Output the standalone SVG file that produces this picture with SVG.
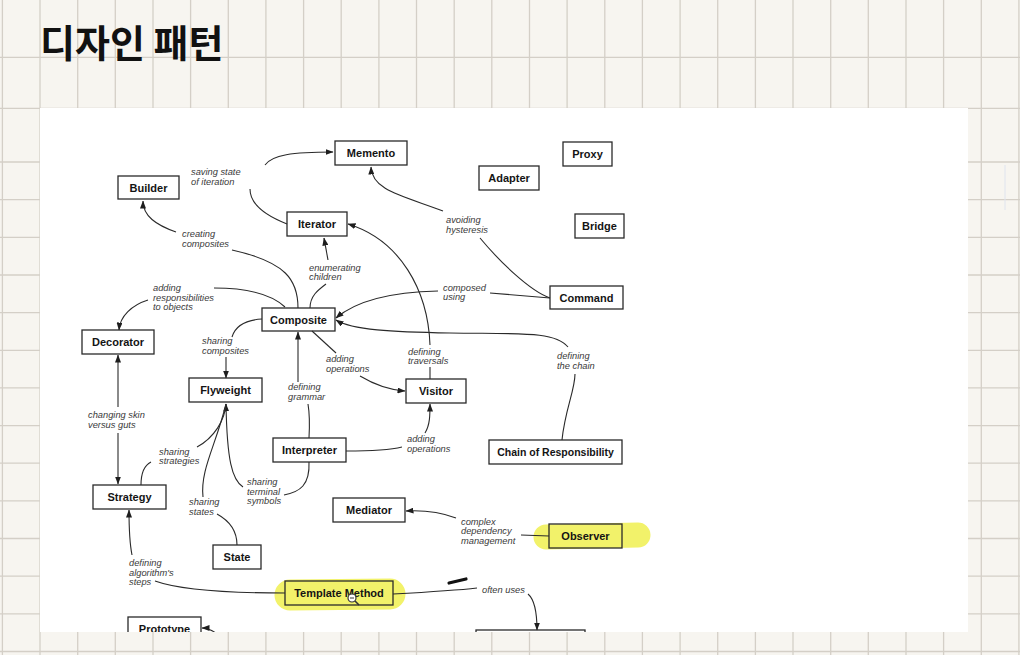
<svg xmlns="http://www.w3.org/2000/svg" width="1020" height="655" viewBox="0 0 1020 655">
<style>
.grid line{stroke:#d4cfc7;stroke-width:1.3}
.node rect{fill:none;stroke:#2a2a2a;stroke-width:1.3}
.node text{font-family:"Liberation Sans",Arial,sans-serif;font-weight:bold;font-size:11px;fill:#141414;text-anchor:middle}
.lbl{font-family:"Liberation Sans",Arial,sans-serif;font-style:italic;font-size:9.3px;fill:#3a3a3a}
.edges path{fill:none;stroke:#2a2a2a;stroke-width:1.1}
.hl{fill:none;stroke:#f2f26a;stroke-linecap:round}
</style>
<defs>
<marker id="ah" markerUnits="userSpaceOnUse" markerWidth="8" markerHeight="6" refX="7.5" refY="3" orient="auto"><path d="M0,0 L8,3 L0,6 z" fill="#1e1e1e"/></marker>
<clipPath id="panel"><rect x="40" y="108" width="928" height="524"/></clipPath>
</defs>
<rect x="0" y="0" width="1020" height="655" fill="#f7f5f0"/>
<g class="grid">
<line x1="2.4" y1="0" x2="2.4" y2="655"/><line x1="40" y1="0" x2="40" y2="655"/><line x1="77.7" y1="0" x2="77.7" y2="655"/><line x1="115.3" y1="0" x2="115.3" y2="655"/><line x1="153" y1="0" x2="153" y2="655"/><line x1="190.6" y1="0" x2="190.6" y2="655"/><line x1="228.3" y1="0" x2="228.3" y2="655"/><line x1="265.9" y1="0" x2="265.9" y2="655"/><line x1="303.6" y1="0" x2="303.6" y2="655"/><line x1="341.2" y1="0" x2="341.2" y2="655"/><line x1="378.9" y1="0" x2="378.9" y2="655"/><line x1="416.5" y1="0" x2="416.5" y2="655"/><line x1="454.2" y1="0" x2="454.2" y2="655"/><line x1="491.8" y1="0" x2="491.8" y2="655"/><line x1="529.5" y1="0" x2="529.5" y2="655"/><line x1="567.1" y1="0" x2="567.1" y2="655"/><line x1="604.8" y1="0" x2="604.8" y2="655"/><line x1="642.4" y1="0" x2="642.4" y2="655"/><line x1="680.1" y1="0" x2="680.1" y2="655"/><line x1="717.7" y1="0" x2="717.7" y2="655"/><line x1="755.4" y1="0" x2="755.4" y2="655"/><line x1="793" y1="0" x2="793" y2="655"/><line x1="830.7" y1="0" x2="830.7" y2="655"/><line x1="868.3" y1="0" x2="868.3" y2="655"/><line x1="906" y1="0" x2="906" y2="655"/><line x1="943.6" y1="0" x2="943.6" y2="655"/><line x1="981.3" y1="0" x2="981.3" y2="655"/><line x1="1018.9" y1="0" x2="1018.9" y2="655"/>
<line x1="0" y1="57.3" x2="1020" y2="57.3"/><line x1="0" y1="108.3" x2="1020" y2="108.3"/><line x1="0" y1="162" x2="1020" y2="162"/><line x1="0" y1="199.7" x2="1020" y2="199.7"/><line x1="0" y1="237.3" x2="1020" y2="237.3"/><line x1="0" y1="275" x2="1020" y2="275"/><line x1="0" y1="312.6" x2="1020" y2="312.6"/><line x1="0" y1="350.3" x2="1020" y2="350.3"/><line x1="0" y1="387.9" x2="1020" y2="387.9"/><line x1="0" y1="425.6" x2="1020" y2="425.6"/><line x1="0" y1="463.2" x2="1020" y2="463.2"/><line x1="0" y1="500.9" x2="1020" y2="500.9"/><line x1="0" y1="538.5" x2="1020" y2="538.5"/><line x1="0" y1="576.2" x2="1020" y2="576.2"/><line x1="0" y1="613.8" x2="1020" y2="613.8"/><line x1="0" y1="651.5" x2="1020" y2="651.5"/>
</g>
<line x1="1005" y1="165" x2="1005" y2="210" stroke="#dfe4ee" stroke-width="1"/>
<text x="40" y="57" font-family="'Noto Sans CJK KR','Noto Sans',sans-serif" font-weight="bold" font-size="38" fill="#111">디자인 패턴</text>
<rect x="40" y="108" width="928" height="524" fill="#ffffff"/>
<g clip-path="url(#panel)">
<g id="highlights">
<path class="hl" d="M546,537 L638,535" stroke-width="25"/>
<path class="hl" d="M290,595 L390,594" stroke-width="31"/>
</g>
<g class="edges" id="connectors">
<path d="M287,224 C264,215 250,203 250,189"/>
<path d="M265,165 C272,155 292,152 333,152" marker-end="url(#ah)"/>
<path d="M298,308 C298,280 286,262 232,250"/>
<path d="M176,232 C156,225 143,216 143,201" marker-end="url(#ah)"/>
<path d="M310,308 C310,296 318,290 326,284"/>
<path d="M328,260 L324,238" marker-end="url(#ah)"/>
<path d="M285,307 C270,293 246,288 214,288"/>
<path d="M148,300 C132,305 120,316 119,330" marker-end="url(#ah)"/>
<path d="M550,298 L490,293"/>
<path d="M438,291 C392,292 356,301 336,318" marker-end="url(#ah)"/>
<path d="M550,298 C530,291 500,262 480,238"/>
<path d="M443,211 C400,195 372,190 371,167" marker-end="url(#ah)"/>
<path d="M430,379 L430,367"/>
<path d="M430,345 C428,290 400,240 348,224" marker-end="url(#ah)"/>
<path d="M562,440 C565,410 575,390 575,374"/>
<path d="M568,347 C555,331 520,334 450,333 C392,332 352,330 336,320" marker-end="url(#ah)"/>
<path d="M262,319 C245,320 235,327 232,337"/>
<path d="M226,357 L226,378" marker-end="url(#ah)"/>
<path d="M312,331 L336,353"/>
<path d="M360,376 C375,385 390,390 405,391" marker-end="url(#ah)"/>
<path d="M309,438 C310,420 309,410 308,404"/>
<path d="M298,382 L298,332" marker-end="url(#ah)"/>
<path d="M346,451 C370,451 390,450 402,447"/>
<path d="M425,433 C430,425 430,415 430,404" marker-end="url(#ah)"/>
<path d="M309,462 C310,485 300,492 284,495"/>
<path d="M243,487 C232,480 227,460 226,404" marker-end="url(#ah)"/>
<path d="M141,485 C141,471 145,465 151,462"/>
<path d="M197,447 C214,438 225,420 226,404"/>
<path d="M237,545 C237,530 228,520 217,514"/>
<path d="M203,497 C200,470 216,445 226,404"/>
<path d="M118,407 L118,355" marker-end="url(#ah)"/>
<path d="M118,433 L118,484" marker-end="url(#ah)"/>
<path d="M285,593 C230,593 180,590 155,581"/>
<path d="M132,555 C129,540 129,525 129,510" marker-end="url(#ah)"/>
<path d="M549,536 L521,535"/>
<path d="M456,518 C440,512 425,510 406,511" marker-end="url(#ah)"/>
<path d="M393,594 C430,592 460,590 477,588"/>
<path d="M528,594 C535,600 537,615 537,630" marker-end="url(#ah)"/>
<path d="M217,634 C212,630 207,628 202,628" marker-end="url(#ah)"/>
</g>
<g id="labels">
<text class="lbl" x="191" y="175">saving state</text><text class="lbl" x="191" y="184.5">of iteration</text>
<text class="lbl" x="182" y="237">creating</text><text class="lbl" x="182" y="246.5">composites</text>
<text class="lbl" x="309" y="270.5">enumerating</text><text class="lbl" x="309" y="280">children</text>
<text class="lbl" x="153" y="291">adding</text><text class="lbl" x="153" y="300.5">responsibilities</text><text class="lbl" x="153" y="310">to objects</text>
<text class="lbl" x="446" y="223">avoiding</text><text class="lbl" x="446" y="232.5">hysteresis</text>
<text class="lbl" x="443" y="290.5">composed</text><text class="lbl" x="443" y="300">using</text>
<text class="lbl" x="202" y="344">sharing</text><text class="lbl" x="202" y="353.5">composites</text>
<text class="lbl" x="326" y="362">adding</text><text class="lbl" x="326" y="371.5">operations</text>
<text class="lbl" x="288" y="390">defining</text><text class="lbl" x="288" y="399.5">grammar</text>
<text class="lbl" x="88" y="418">changing skin</text><text class="lbl" x="88" y="427.5">versus guts</text>
<text class="lbl" x="159" y="454.5">sharing</text><text class="lbl" x="159" y="464">strategies</text>
<text class="lbl" x="247" y="485">sharing</text><text class="lbl" x="247" y="494.5">terminal</text><text class="lbl" x="247" y="504">symbols</text>
<text class="lbl" x="189" y="505">sharing</text><text class="lbl" x="189" y="514.5">states</text>
<text class="lbl" x="408" y="354.5">defining</text><text class="lbl" x="408" y="364">traversals</text>
<text class="lbl" x="557" y="359">defining</text><text class="lbl" x="557" y="368.5">the chain</text>
<text class="lbl" x="407" y="442">adding</text><text class="lbl" x="407" y="451.5">operations</text>
<text class="lbl" x="461" y="524.5">complex</text><text class="lbl" x="461" y="534">dependency</text><text class="lbl" x="461" y="543.5">management</text>
<text class="lbl" x="129" y="566">defining</text><text class="lbl" x="129" y="575.5">algorithm's</text><text class="lbl" x="129" y="585">steps</text>
<text class="lbl" x="482" y="593">often uses</text>
</g>
<g id="n-memento" class="node"><rect x="335" y="141" width="72" height="24"/><text x="371" y="157">Memento</text></g>
<g id="n-proxy" class="node"><rect x="563" y="142" width="49" height="24"/><text x="587.5" y="158">Proxy</text></g>
<g id="n-builder" class="node"><rect x="118" y="176" width="61" height="23"/><text x="148.5" y="191.5">Builder</text></g>
<g id="n-adapter" class="node"><rect x="479" y="166" width="60" height="24"/><text x="509" y="182">Adapter</text></g>
<g id="n-iterator" class="node"><rect x="287" y="212" width="60" height="24"/><text x="317" y="228">Iterator</text></g>
<g id="n-bridge" class="node"><rect x="575" y="214" width="49" height="24"/><text x="599.5" y="230">Bridge</text></g>
<g id="n-command" class="node"><rect x="550" y="286" width="73" height="23"/><text x="586.5" y="301.5">Command</text></g>
<g id="n-composite" class="node"><rect x="262" y="308" width="73" height="23"/><text x="298.5" y="323.5">Composite</text></g>
<g id="n-decorator" class="node"><rect x="82" y="330" width="72" height="24"/><text x="118" y="346">Decorator</text></g>
<g id="n-flyweight" class="node"><rect x="189" y="378" width="73" height="24"/><text x="225.5" y="394">Flyweight</text></g>
<g id="n-visitor" class="node"><rect x="406" y="379" width="60" height="24"/><text x="436" y="395">Visitor</text></g>
<g id="n-interpreter" class="node"><rect x="273" y="438" width="73" height="24"/><text x="309.5" y="454">Interpreter</text></g>
<g id="n-chain" class="node"><rect x="489" y="440" width="133" height="24"/><text x="555.5" y="456" style="font-size:10.5px">Chain of Responsibility</text></g>
<g id="n-strategy" class="node"><rect x="93" y="485" width="73" height="24"/><text x="129.5" y="501">Strategy</text></g>
<g id="n-mediator" class="node"><rect x="333" y="498" width="72" height="24"/><text x="369" y="514">Mediator</text></g>
<g id="n-observer" class="node"><rect x="549" y="524" width="73" height="24"/><text x="585.5" y="540">Observer</text></g>
<g id="n-state" class="node"><rect x="213" y="545" width="48" height="24"/><text x="237" y="561">State</text></g>
<g id="n-template" class="node"><rect x="285" y="581" width="108" height="24"/><text x="339" y="597">Template Method</text></g>
<g id="n-prototype" class="node"><rect x="128" y="617" width="73" height="24"/><text x="164.5" y="633">Prototype</text></g>
<g id="n-cut" class="node"><rect x="476" y="630" width="109" height="24"/></g>
<path d="M449,583 L466,579" stroke="#111" stroke-width="3.2" stroke-linecap="round" fill="none"/>
<g id="cursor"><circle cx="352" cy="598" r="4" fill="#fff" stroke="#333" stroke-width="1.2"/><line x1="350" y1="598" x2="354" y2="598" stroke="#333" stroke-width="1"/><line x1="355" y1="601" x2="359" y2="605" stroke="#333" stroke-width="1.6"/></g>
</g>
</svg>
